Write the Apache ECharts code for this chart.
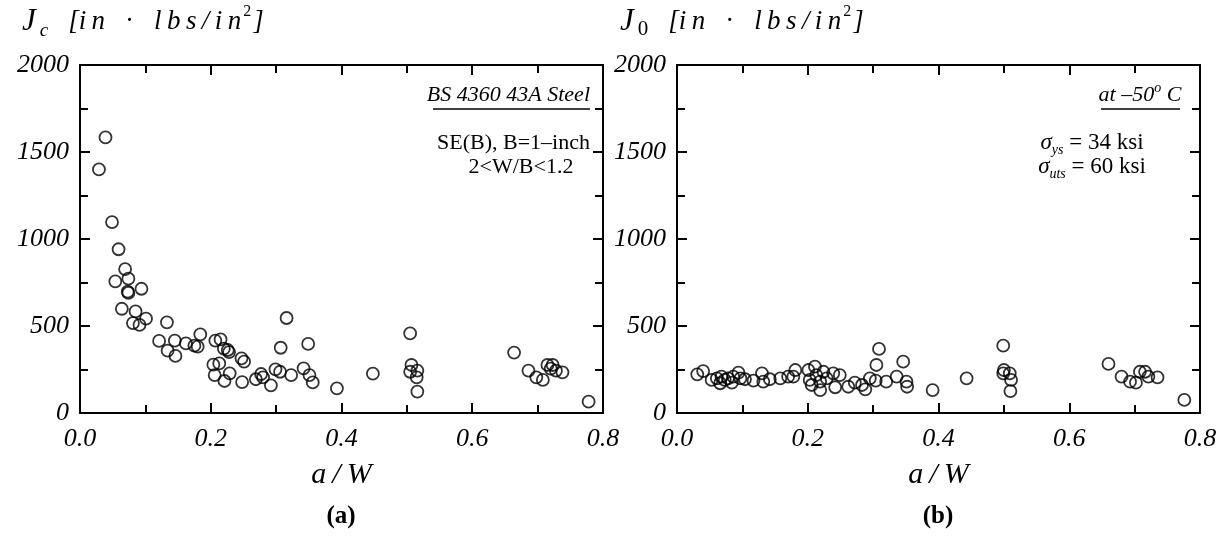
<!DOCTYPE html>
<html><head><meta charset="utf-8">
<script src="https://cdn.jsdelivr.net/npm/echarts@6/dist/echarts.min.js"></script>
<style>html,body{margin:0;padding:0;background:#fff}#c{width:1220px;height:540px}</style>
</head><body><div id="c"></div>
<script>
// ---- data ----
const jcX = [0.029,0.039,0.049,0.059,0.069,0.054,0.074,0.073,0.074,0.094,0.064,0.085,0.081,0.091,0.101,0.133,0.121,0.134,0.146,0.145,0.162,0.175,0.180,0.184,0.207,0.215,0.220,0.226,0.228,0.204,0.213,0.206,0.221,0.229,0.247,0.251,0.248,0.269,0.277,0.292,0.280,0.299,0.307,0.316,0.306,0.323,0.342,0.349,0.351,0.356,0.393,0.448,0.505,0.507,0.505,0.516,0.515,0.516,0.664,0.686,0.698,0.708,0.715,0.723,0.720,0.728,0.738,0.778];
const jcY = [1400,1584,1097,941,827,757,772,697,690,714,599,584,517,506,542,521,414,358,328,416,400,387,381,452,416,423,370,362,350,278,285,218,184,228,314,295,178,194,224,159,205,251,375,546,237,218,257,397,218,176,142,226,458,276,237,243,205,123,347,243,205,190,276,276,255,243,234,65];
const j0X = [0.031,0.040,0.053,0.061,0.068,0.073,0.078,0.086,0.094,0.097,0.066,0.084,0.104,0.117,0.130,0.132,0.142,0.158,0.170,0.181,0.178,0.201,0.203,0.206,0.211,0.213,0.219,0.224,0.229,0.219,0.239,0.249,0.242,0.262,0.272,0.283,0.288,0.295,0.305,0.309,0.304,0.320,0.336,0.346,0.351,0.352,0.391,0.443,0.499,0.500,0.499,0.509,0.511,0.510,0.660,0.680,0.693,0.702,0.708,0.716,0.721,0.735,0.776];
const j0Y = [222,241,190,199,209,190,199,209,232,199,171,174,194,186,228,180,194,199,209,247,209,247,190,161,266,218,180,237,199,132,228,218,148,151,174,161,136,199,276,368,186,180,209,295,180,151,132,199,387,247,228,228,190,126,282,209,180,174,237,237,209,205,75];
const xTickLabels = ['0.0','0.2','0.4','0.6','0.8'];
const yTickLabels = ['0','500','1000','1500','2000'];

const SERIF = '"Liberation Serif", "DejaVu Serif", serif';
const chart = echarts.init(document.getElementById('c'), null, {renderer:'canvas'});

const grids = [
  {left:80, top:65, width:523, height:348},
  {left:677, top:65, width:523, height:348}
];
const tickStyle = {color:'#000', width:2};
function xAxes(gi){
  return [{
    gridIndex:gi, type:'value', min:0, max:0.8, interval:0.2, position:'bottom',
    axisLine:{show:true, onZero:false, lineStyle:{color:'#000', width:2}},
    axisTick:{show:true, inside:true, length:10, lineStyle:tickStyle},
    minorTick:{show:true, splitNumber:2, length:8, lineStyle:tickStyle},
    splitLine:{show:false},
    axisLabel:{margin:13, fontFamily:SERIF, fontStyle:'italic', fontSize:26, color:'#000',
      formatter:v=>xTickLabels[Math.round(v/0.2)]},
    name:'a\u2009/\u2009W', nameLocation:'middle', nameGap:47,
    nameTextStyle:{fontFamily:SERIF, fontStyle:'italic', fontSize:30, color:'#000'}
  },{
    gridIndex:gi, type:'value', min:0, max:0.8, interval:0.2, position:'top',
    axisLine:{show:true, onZero:false, lineStyle:{color:'#000', width:2}},
    axisTick:{show:true, inside:true, length:10, lineStyle:tickStyle},
    minorTick:{show:true, splitNumber:2, length:8, lineStyle:tickStyle},
    splitLine:{show:false}, axisLabel:{show:false}
  }];
}
function yAxes(gi){
  return [{
    gridIndex:gi, type:'value', min:0, max:2000, interval:500, position:'left',
    axisLine:{show:true, onZero:false, lineStyle:{color:'#000', width:2}},
    axisTick:{show:true, inside:true, length:10, lineStyle:tickStyle},
    minorTick:{show:true, splitNumber:2, length:8, lineStyle:tickStyle},
    splitLine:{show:false},
    axisLabel:{margin:11, fontFamily:SERIF, fontStyle:'italic', fontSize:26, color:'#000',
      formatter:v=>yTickLabels[Math.round(v/500)]}
  },{
    gridIndex:gi, type:'value', min:0, max:2000, interval:500, position:'right',
    axisLine:{show:true, onZero:false, lineStyle:{color:'#000', width:2}},
    axisTick:{show:true, inside:true, length:10, lineStyle:tickStyle},
    minorTick:{show:true, splitNumber:2, length:8, lineStyle:tickStyle},
    splitLine:{show:false}, axisLabel:{show:false}
  }];
}
const marker = {color:'rgba(255,255,255,0)', borderColor:'#000', borderWidth:1.8};
function pts(xs, ys){ return xs.map((x,i)=>[x, ys[i]]); }

const S3 = '\u2009';
const titleRich = {
  j:{fontFamily:SERIF, fontStyle:'italic', fontSize:31, fill:'#000', lineHeight:36},
  s:{fontFamily:SERIF, fontStyle:'italic', fontSize:19, fill:'#000', verticalAlign:'bottom', lineHeight:20, padding:[0,0,0,4]},
  s0:{fontFamily:SERIF, fontSize:21, fill:'#000', verticalAlign:'bottom', lineHeight:22, padding:[0,0,0,4]},
  b:{fontFamily:SERIF, fontStyle:'italic', fontSize:27, fill:'#000', lineHeight:36, padding:[0,0,0,20]},
  d:{fontFamily:SERIF, fontSize:27, fill:'#000', lineHeight:36, padding:[0,20,0,20]},
  t:{fontFamily:SERIF, fontStyle:'italic', fontSize:27, fill:'#000', lineHeight:36},
  p:{fontFamily:SERIF, fontSize:16, fill:'#000', verticalAlign:'top', lineHeight:28, padding:[0,2,0,2]}
};
const unitText = '{b|[i'+S3+'n}{d|\u00b7}{t|l'+S3+'b'+S3+'s'+S3+'/'+S3+'i'+S3+'n}{p|2}{t|]}';

const option = {
  animation:false,
  backgroundColor:'#fff',
  grid:grids,
  xAxis:[...xAxes(0), ...xAxes(1)],
  yAxis:[...yAxes(0), ...yAxes(1)],
  series:[
    {type:'scatter', xAxisIndex:0, yAxisIndex:0, symbol:'circle', symbolSize:12, itemStyle:marker, data:pts(jcX,jcY)},
    {type:'scatter', xAxisIndex:2, yAxisIndex:2, symbol:'circle', symbolSize:12, itemStyle:marker, data:pts(j0X,j0Y)}
  ],
  graphic:[
    {type:'text', x:22, y:22, style:{text:'{j|J}{s|c}'+unitText, rich:titleRich, verticalAlign:'middle'}},
    {type:'text', x:620, y:22, style:{text:'{j|J}{s0|0}'+unitText, rich:titleRich, verticalAlign:'middle'}},
    {type:'text', x:341, y:517, style:{text:'(a)', font:'bold 25px '+SERIF, fill:'#000', align:'center', verticalAlign:'middle'}},
    {type:'text', x:938, y:517, style:{text:'(b)', font:'bold 25px '+SERIF, fill:'#000', align:'center', verticalAlign:'middle'}},
    // left annotations
    {type:'text', x:590, y:95, style:{text:'BS 4360 43A Steel', font:'italic 22px '+SERIF, fill:'#000', align:'right', verticalAlign:'middle'}},
    {type:'line', shape:{x1:433, y1:109, x2:590, y2:109}, style:{stroke:'#000', lineWidth:1.3}},
    {type:'text', x:590, y:143, style:{text:'SE(B), B=1\u2013inch', font:'22px '+SERIF, fill:'#000', align:'right', verticalAlign:'middle'}},
    {type:'text', x:521, y:167, style:{text:'2<W/B<1.2', font:'22px '+SERIF, fill:'#000', align:'center', verticalAlign:'middle'}},
    // right annotations
    {type:'text', x:1140, y:95, style:{text:'{a|at \u201350}{o|o}{a| C}', align:'center', verticalAlign:'middle',
      rich:{a:{fontFamily:SERIF, fontStyle:'italic', fontSize:22, fill:'#000', lineHeight:28}, o:{fontFamily:SERIF, fontStyle:'italic', fontSize:14, fill:'#000', verticalAlign:'top', lineHeight:22}}}},
    {type:'line', shape:{x1:1101, y1:109, x2:1180, y2:109}, style:{stroke:'#000', lineWidth:1.3}},
    {type:'text', x:1092, y:143, style:{text:'{g|\u03c3}{s|ys}{a| = 34 ksi}', align:'center', verticalAlign:'middle',
      rich:{g:{fontFamily:SERIF, fontStyle:'italic', fontSize:23, fill:'#000', lineHeight:28}, s:{fontFamily:SERIF, fontStyle:'italic', fontSize:14, fill:'#000', verticalAlign:'bottom', lineHeight:18}, a:{fontFamily:SERIF, fontSize:23, fill:'#000', lineHeight:28}}}},
    {type:'text', x:1092, y:167, style:{text:'{g|\u03c3}{s|uts}{a| = 60 ksi}', align:'center', verticalAlign:'middle',
      rich:{g:{fontFamily:SERIF, fontStyle:'italic', fontSize:23, fill:'#000', lineHeight:28}, s:{fontFamily:SERIF, fontStyle:'italic', fontSize:14, fill:'#000', verticalAlign:'bottom', lineHeight:18}, a:{fontFamily:SERIF, fontSize:23, fill:'#000', lineHeight:28}}}}
  ]
};
chart.setOption(option);
</script></body></html>
